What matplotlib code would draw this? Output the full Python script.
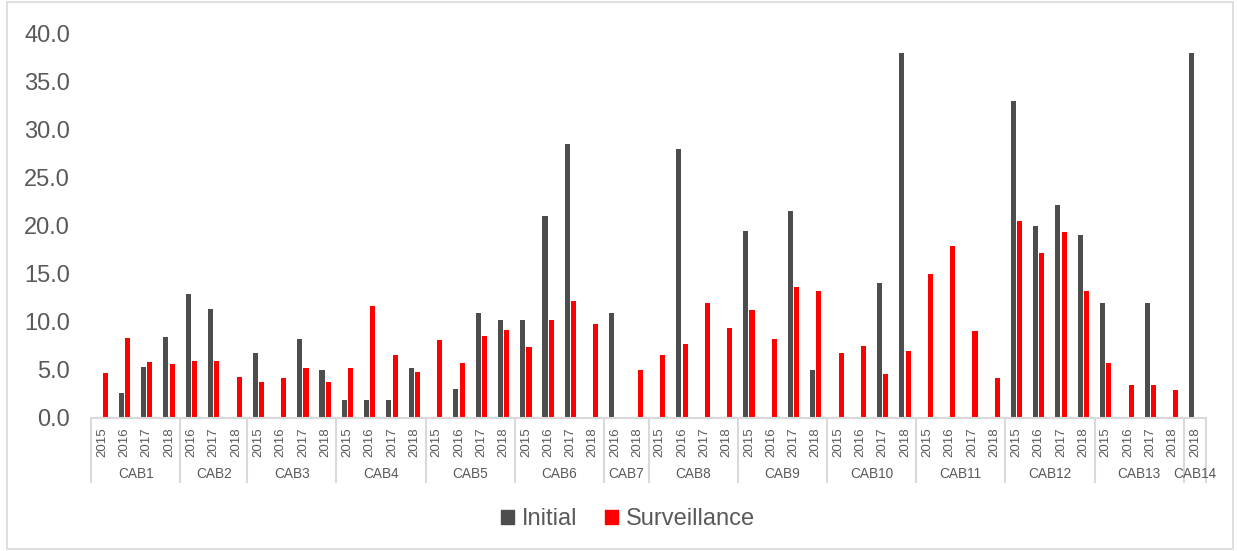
import numpy as np
import matplotlib
matplotlib.use("Agg")
import matplotlib.pyplot as plt
from matplotlib.patches import Rectangle
from matplotlib.ticker import FormatStrFormatter

nan = np.nan

groups = ["CAB1", "CAB2", "CAB3", "CAB4", "CAB5", "CAB6", "CAB7",
          "CAB8", "CAB9", "CAB10", "CAB11", "CAB12", "CAB13", "CAB14"]
group_years = [
    ["2015", "2016", "2017", "2018"],
    ["2016", "2017", "2018"],
    ["2015", "2016", "2017", "2018"],
    ["2015", "2016", "2017", "2018"],
    ["2015", "2016", "2017", "2018"],
    ["2015", "2016", "2017", "2018"],
    ["2016", "2018"],
    ["2015", "2016", "2017", "2018"],
    ["2015", "2016", "2017", "2018"],
    ["2015", "2016", "2017", "2018"],
    ["2015", "2016", "2017", "2018"],
    ["2015", "2016", "2017", "2018"],
    ["2015", "2016", "2017", "2018"],
    ["2018"],
]

initial = [
    nan, 2.6, 5.3, 8.4,
    12.9, 11.35, nan,
    6.8, nan, 8.2, 5.0,
    1.9, 1.9, 1.9, 5.2,
    nan, 3.0, 10.9, 10.2,
    10.2, 21.0, 28.5, nan,
    10.9, nan,
    nan, 28.0, nan, nan,
    19.5, nan, 21.5, 5.0,
    nan, nan, 14.0, 38.0,
    nan, nan, nan, nan,
    33.0, 20.0, 22.2, 19.0,
    12.0, nan, 12.0, nan,
    38.0,
]

surveillance = [
    4.7, 8.3, 5.8, 5.6,
    5.9, 5.9, 4.3,
    3.7, 4.2, 5.2, 3.7,
    5.2, 11.6, 6.6, 4.8,
    8.15, 5.7, 8.5, 9.2,
    7.4, 10.2, 12.2, 9.8,
    nan, 5.0,
    6.6, 7.7, 12.0, 9.4,
    11.2, 8.2, 13.6, 13.2,
    6.8, 7.5, 4.6, 7.0,
    15.0, 17.9, 9.1, 4.2,
    20.5, 17.2, 19.3, 13.2,
    5.7, 3.4, 3.4, 2.95,
    nan,
]

plt.rcParams['font.family'] = ['Liberation Sans', 'DejaVu Sans']

W, H = 1237, 551
fig = plt.figure(figsize=(W / 100, H / 100), dpi=100)
ax = fig.add_axes([91 / W, 1 - 418 / H, (1206 - 91) / W, (418 - 33.5) / H])

year_labels = [y for ys in group_years for y in ys]
n = len(year_labels)
x = np.arange(n)

grey_txt = "#595959"
line_col = "#d9d9d9"
c_init = "#4d4d4d"
c_surv = "#ff0000"

bw = 0.23
off = 0.14
ax.bar(x - off, initial, width=bw, color=c_init, label="Initial", linewidth=0)
ax.bar(x + off, surveillance, width=bw, color=c_surv, label="Surveillance", linewidth=0)

ax.set_xlim(-0.5, n - 0.5)
ax.set_ylim(0, 40)
ax.set_yticks(np.arange(0, 40.1, 5))
ax.yaxis.set_major_formatter(FormatStrFormatter("%.1f"))
ax.tick_params(axis='y', length=0, pad=15, labelsize=17, labelcolor=grey_txt)

for s in ["top", "right", "left"]:
    ax.spines[s].set_visible(False)
ax.spines["bottom"].set_color(line_col)
ax.spines["bottom"].set_linewidth(1.5)

ax.set_xticks(x)
ax.set_xticklabels(year_labels, rotation=90, fontsize=9.5, color=grey_txt)
ax.tick_params(axis='x', which='major', length=0, pad=7)

# group boundaries as long minor ticks
bounds = [-0.5]
for ys in group_years:
    bounds.append(bounds[-1] + len(ys))
ax.set_xticks(bounds, minor=True)
ax.tick_params(axis='x', which='minor', length=47, width=1.5, color=line_col, direction='out')

trans = ax.get_xaxis_transform()
axh = 418 - 33.5
for i, g in enumerate(groups):
    cx = (bounds[i] + bounds[i + 1]) / 2
    ax.text(cx, -(473.5 - 418) / axh, g, transform=trans, ha='center', va='center',
            fontsize=9.8, color=grey_txt)

handles = [Rectangle((0, 0), 1, 1, color=c_init), Rectangle((0, 0), 1, 1, color=c_surv)]
fig.legend(handles, ["Initial", "Surveillance"], loc='center', bbox_to_anchor=(628 / W, 1 - 519 / H),
           ncol=2, frameon=False, fontsize=17, handlelength=0.55, handleheight=0.55,
           handletextpad=0.3, columnspacing=1.2, labelcolor=grey_txt)

fig.patches.append(Rectangle((6.5 / W, 2 / H), (1233 - 6.5) / W, (549 - 2) / H,
                             transform=fig.transFigure, fill=False, edgecolor=line_col, linewidth=1.2))

fig.savefig("out.png", dpi=100)
